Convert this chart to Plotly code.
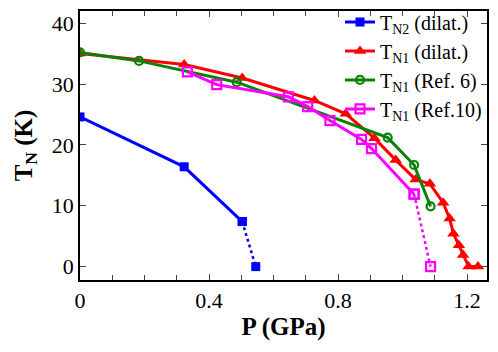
import plotly.graph_objects as go

# T_N2 from dilatometry (last segment dotted)
p_n2_dil = [0.0, 0.323, 0.503, 0.545]
t_n2_dil = [24.6, 16.4, 7.4, 0.0]

# T_N1 from dilatometry
p_n1_dil = [0.0, 0.323, 0.503, 0.727, 0.824, 0.913, 0.979, 1.041, 1.085,
            1.126, 1.146, 1.158, 1.175, 1.188, 1.205, 1.234]
t_n1_dil = [35.0, 33.2, 31.0, 27.3, 25.1, 21.1, 17.5, 14.3, 13.6,
            10.5, 7.9, 5.4, 3.5, 1.9, 0.0, 0.0]

# T_N1 from Ref. 6
p_ref6 = [0.0, 0.183, 0.486, 0.954, 1.036, 1.087]
t_ref6 = [35.2, 33.8, 30.3, 21.2, 16.7, 9.9]

# T_N1 from Ref. 10 (last segment dotted)
p_ref10 = [0.333, 0.424, 0.646, 0.706, 0.775, 0.873, 0.904, 1.036, 1.087]
t_ref10 = [32.0, 29.9, 27.9, 26.3, 24.0, 20.9, 19.4, 11.9, 0.0]

FONT = '"Liberation Serif", "Times New Roman", serif'
fig = go.Figure()

# T_N2 dilat.
fig.add_trace(go.Scatter(x=p_n2_dil[-2:], y=t_n2_dil[-2:], mode="lines+markers",
                         line=dict(color="#0000ff", width=2.5, dash="dot"),
                         marker=dict(symbol="square", size=9, color="#0000ff"),
                         showlegend=False))
fig.add_trace(go.Scatter(x=p_n2_dil[:-1], y=t_n2_dil[:-1], mode="lines+markers",
                         name="T<sub>N2</sub> (dilat.)", legendgroup="a",
                         line=dict(color="#0000ff", width=3),
                         marker=dict(symbol="square", size=9, color="#0000ff")))

# T_N1 dilat.
fig.add_trace(go.Scatter(x=p_n1_dil, y=t_n1_dil, mode="lines+markers",
                         name="T<sub>N1</sub> (dilat.)", legendgroup="b",
                         line=dict(color="#ff0000", width=3),
                         marker=dict(symbol="triangle-up", size=11, color="#ff0000")))

# T_N1 Ref. 6
fig.add_trace(go.Scatter(x=p_ref6, y=t_ref6, mode="lines+markers",
                         name="T<sub>N1</sub> (Ref. 6)", legendgroup="c",
                         line=dict(color="#0a820a", width=3),
                         marker=dict(symbol="circle-open", size=8, color="#0a820a",
                                     line=dict(width=2.2))))

# T_N1 Ref. 10
fig.add_trace(go.Scatter(x=p_ref10[-2:], y=t_ref10[-2:], mode="lines+markers",
                         line=dict(color="#ff00ff", width=2.5, dash="dot"),
                         marker=dict(symbol="square-open", size=9, color="#ff00ff",
                                     line=dict(width=2.2)),
                         showlegend=False))
fig.add_trace(go.Scatter(x=p_ref10[:-1], y=t_ref10[:-1], mode="lines+markers",
                         name="T<sub>N1</sub> (Ref.10)", legendgroup="d",
                         line=dict(color="#ff00ff", width=3),
                         marker=dict(symbol="square-open", size=9, color="#ff00ff",
                                     line=dict(width=2.2))))

# page body has an 8px margin, so the figure is 8px smaller than the window
fig.update_layout(
    width=490, height=344,
    margin=dict(l=72, r=11, t=3, b=72, autoexpand=False),
    paper_bgcolor="white", plot_bgcolor="white",
    font=dict(family=FONT, size=22, color="black"),
    legend=dict(x=1.0, y=1.032, xanchor="right", yanchor="top",
                bgcolor="rgba(0,0,0,0)", borderwidth=0,
                font=dict(family=FONT, size=20), tracegroupgap=0,
                itemwidth=30),
    xaxis=dict(range=[0, 1.262], dtick=0.4, tick0=0, ticks="inside", ticklen=6,
               tickwidth=1, showline=True, linecolor="black", linewidth=1.5,
               mirror="ticks", showgrid=False, zeroline=False, automargin=False,
               minor=dict(dtick=0.1, ticks="inside", ticklen=5, tickwidth=1),
               title=dict(text="<b>P (GPa)</b>", font=dict(size=25), standoff=5)),
    yaxis=dict(range=[-2.2, 42], dtick=10, tick0=0, ticks="inside", ticklen=6,
               tickwidth=1, showline=True, linecolor="black", linewidth=1.5,
               mirror="ticks", showgrid=False, zeroline=False, automargin=False,
               title=dict(text="<b>T<sub>N</sub> (K)</b>", font=dict(size=25), standoff=12)),
)

fig.write_html("out.html")
